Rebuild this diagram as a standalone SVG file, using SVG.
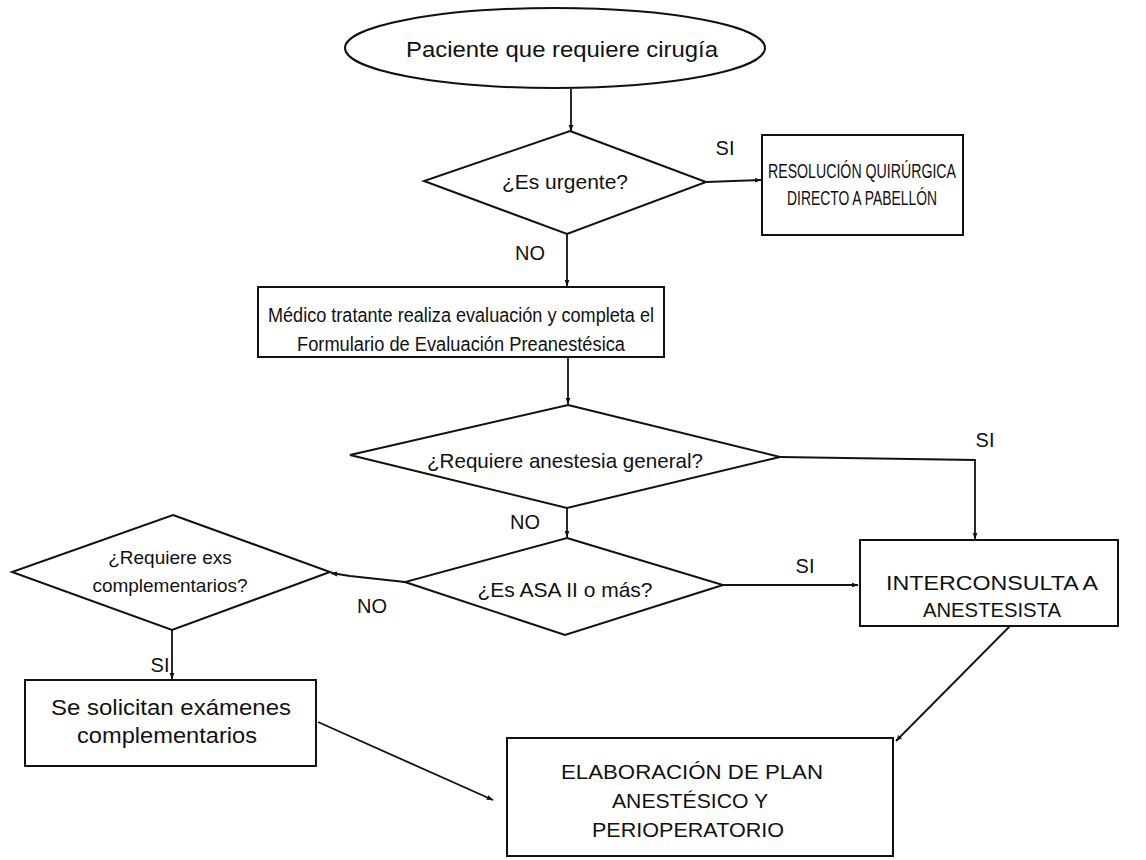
<svg xmlns="http://www.w3.org/2000/svg" width="1146" height="860" viewBox="0 0 1146 860">
<defs>
<marker id="ah" viewBox="0 0 10 10" refX="9" refY="5" markerWidth="7" markerHeight="7" orient="auto" markerUnits="userSpaceOnUse">
<path d="M0,1.5 L10,5 L0,8.5 z" fill="#111"/>
</marker>
<style>
.s{fill:#fff;stroke:#111;stroke-width:2}
.t{font-family:"Liberation Sans",Arial,sans-serif;fill:#111;text-anchor:middle}
.c{fill:none;stroke:#111;stroke-width:1.8;marker-end:url(#ah)}
</style>
</defs>
<rect width="1146" height="860" fill="#fff"/>
<g id="connectors">
<line class="c" x1="571" y1="89" x2="571" y2="131"/>
<line class="c" x1="706" y1="182" x2="761" y2="180"/>
<line class="c" x1="567" y1="234" x2="567" y2="286"/>
<line class="c" x1="568" y1="357" x2="568" y2="404"/>
<polyline class="c" points="780,457 975,460 975,539"/>
<line class="c" x1="567" y1="508" x2="567" y2="537"/>
<line class="c" x1="723" y1="585" x2="858" y2="585"/>
<polyline class="c" points="405,582 350,576 331,573"/>
<line class="c" x1="172" y1="630" x2="172" y2="679"/>
<line class="c" x1="318" y1="722" x2="493" y2="800"/>
<line class="c" x1="1010" y1="626" x2="896" y2="741"/>
<g class="t" font-size="20">
<text x="725" y="155">SI</text>
<text x="530" y="260">NO</text>
<text x="985" y="447">SI</text>
<text x="525" y="529">NO</text>
<text x="805" y="573">SI</text>
<text x="372" y="613">NO</text>
<text x="160" y="672">SI</text>
</g>
</g>
<g id="n-start">
<ellipse class="s" cx="555" cy="48" rx="210" ry="40"/>
<text class="t" x="562" y="57" font-size="22" textLength="312" lengthAdjust="spacingAndGlyphs">Paciente que requiere cirugía</text>
</g>
<g id="n-urgente">
<polygon class="s" points="570,131 706,182 567,234 424,181"/>
<text class="t" x="565" y="189" font-size="21">¿Es urgente?</text>
</g>
<g id="n-resolucion">
<rect class="s" x="762" y="135" width="201" height="100"/>
<text class="t" x="862" y="178" font-size="20" textLength="188" lengthAdjust="spacingAndGlyphs">RESOLUCIÓN QUIRÚRGICA</text>
<text class="t" x="862" y="205" font-size="20" textLength="150" lengthAdjust="spacingAndGlyphs">DIRECTO A PABELLÓN</text>
</g>
<g id="n-medico">
<rect class="s" x="258" y="287" width="406" height="70"/>
<text class="t" x="461" y="322" font-size="20" textLength="386" lengthAdjust="spacingAndGlyphs">Médico tratante realiza evaluación y completa el</text>
<text class="t" x="461" y="351" font-size="20" textLength="328" lengthAdjust="spacingAndGlyphs">Formulario de Evaluación Preanestésica</text>
</g>
<g id="n-general">
<polygon class="s" points="568,405 780,457 567,508 350,455"/>
<text class="t" x="565" y="468" font-size="21" textLength="276" lengthAdjust="spacingAndGlyphs">¿Requiere anestesia general?</text>
</g>
<g id="n-asa">
<polygon class="s" points="567,538 723,585 565,635 405,582"/>
<text class="t" x="565" y="597" font-size="21">¿Es ASA II o más?</text>
</g>
<g id="n-exs">
<polygon class="s" points="173,515 330,572 172,630 12,572"/>
<text class="t" x="170" y="564" font-size="19">¿Requiere exs</text>
<text class="t" x="170" y="592" font-size="19">complementarios?</text>
</g>
<g id="n-interconsulta">
<rect class="s" x="860" y="540" width="258" height="86"/>
<text class="t" x="992" y="590" font-size="21" textLength="212" lengthAdjust="spacingAndGlyphs">INTERCONSULTA A</text>
<text class="t" x="992" y="617" font-size="21" textLength="138" lengthAdjust="spacingAndGlyphs">ANESTESISTA</text>
</g>
<g id="n-solicitan">
<rect class="s" x="25" y="680" width="291" height="86"/>
<text class="t" x="171" y="715" font-size="22" textLength="240" lengthAdjust="spacingAndGlyphs">Se solicitan exámenes</text>
<text class="t" x="167" y="743" font-size="22" textLength="180" lengthAdjust="spacingAndGlyphs">complementarios</text>
</g>
<g id="n-elaboracion">
<rect class="s" x="507" y="738" width="386" height="118"/>
<text class="t" x="692" y="779" font-size="21" textLength="262" lengthAdjust="spacingAndGlyphs">ELABORACIÓN DE PLAN</text>
<text class="t" x="690" y="808" font-size="21" textLength="156" lengthAdjust="spacingAndGlyphs">ANESTÉSICO Y</text>
<text class="t" x="688" y="837" font-size="21" textLength="192" lengthAdjust="spacingAndGlyphs">PERIOPERATORIO</text>
</g>
</svg>
